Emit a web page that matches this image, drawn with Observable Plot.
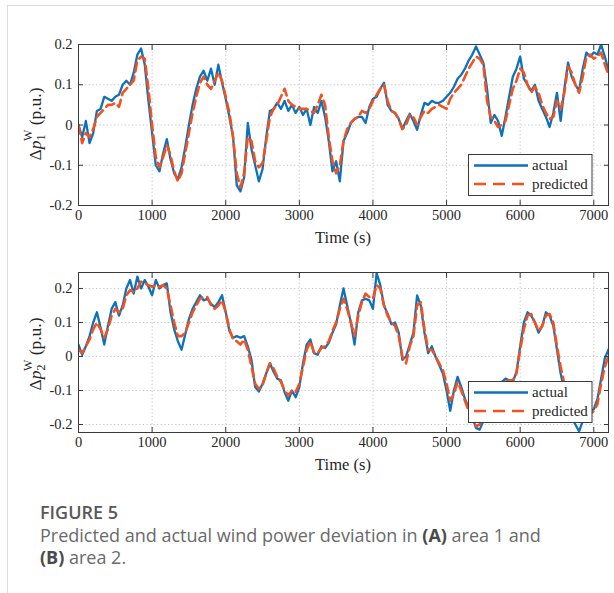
<!DOCTYPE html>
<html><head><meta charset="utf-8">
<script src="https://cdn.jsdelivr.net/npm/d3@7"></script>
<script src="https://cdn.jsdelivr.net/npm/@observablehq/plot@0.6"></script>
<style>
body{margin:0;background:#fff;}
#page{position:relative;width:614px;height:593px;overflow:hidden;background:#fff;}
.bt{position:absolute;left:7px;top:5px;width:607px;height:1px;background:#dcdcdc;}
.bl{position:absolute;left:7px;top:5px;width:1px;height:588px;background:#dcdcdc;}
#p1{position:absolute;left:0;top:0;}
#p2{position:absolute;left:0;top:250px;}
#p1 svg text, #p2 svg text{font-size:14.5px;font-family:'Liberation Serif','Times New Roman',serif;}
#cap{position:absolute;left:40px;top:501px;font-family:'Open Sans',sans-serif;color:#6a6a6a;}
#cap .h{font-size:18px;font-weight:600;color:#585858;line-height:23px;}
#cap .t{font-size:18px;line-height:22px;margin-top:0px;}
#cap b{color:#4a4a4a;font-weight:700;}
</style></head>
<body>
<div id="page">
<div class="bt"></div><div class="bl"></div>
<div id="p1"></div><div id="p2"></div>
<div id="cap"><div class="h">FIGURE 5</div><div class="t">Predicted and actual wind power deviation in <b>(A)</b> area 1 and</div><div class="t"><b>(B)</b> area 2.</div></div>
</div>
<script>
// Time grid (s), sampled every 50 s from 0 to 7200
const time = d3.range(0, 7201, 50);
const xTicks = [0, 1000, 2000, 3000, 4000, 5000, 6000, 7000];
const yTicks1 = [-0.2, -0.1, 0, 0.1, 0.2];
const yTicks2 = [-0.2, -0.1, 0, 0.1, 0.2];

// Area 1
const actual1 = [
  0.0,-0.03,0.01,-0.045,-0.02,0.035,0.04,0.07,0.065,0.06,
  0.07,0.075,0.1,0.11,0.1,0.13,0.175,0.19,0.15,0.06,
  -0.02,-0.1,-0.115,-0.07,-0.035,-0.085,-0.12,-0.135,-0.105,-0.055,
  0.0,0.05,0.09,0.12,0.135,0.11,0.14,0.1,0.15,0.105,
  0.065,0.02,-0.03,-0.15,-0.165,-0.13,0.005,-0.06,-0.1,-0.14,
  -0.11,-0.03,0.035,0.04,0.055,0.04,0.06,0.035,0.05,0.03,
  0.045,0.025,0.04,0.0,0.045,0.03,0.06,0.02,-0.04,-0.115,
  -0.09,-0.14,-0.04,-0.02,0.005,0.015,0.02,0.02,0.005,0.045,
  0.065,0.07,0.09,0.105,0.05,0.035,0.03,0.015,-0.01,0.01,
  0.028,0.01,-0.012,0.025,0.055,0.05,0.06,0.055,0.055,0.06,
  0.07,0.08,0.095,0.115,0.125,0.14,0.16,0.175,0.195,0.175,
  0.155,0.09,0.005,0.025,0.01,-0.027,0.02,0.07,0.12,0.14,
  0.17,0.115,0.1,0.085,0.1,0.06,0.04,0.02,-0.005,0.03,
  0.08,0.01,0.09,0.155,0.12,0.1,0.085,0.14,0.18,0.17,
  0.18,0.175,0.2,0.17,0.135];
const predicted1 = [
  0.0,-0.045,-0.02,-0.03,-0.01,0.02,0.03,0.04,0.05,0.05,
  0.055,0.045,0.08,0.09,0.1,0.11,0.16,0.17,0.165,0.09,
  0.0,-0.08,-0.105,-0.08,-0.05,-0.075,-0.115,-0.14,-0.12,-0.07,
  -0.02,0.03,0.07,0.105,0.12,0.1,0.09,0.11,0.13,0.11,
  0.07,0.03,-0.03,-0.12,-0.155,-0.12,-0.03,-0.04,-0.09,-0.105,
  -0.095,-0.04,0.02,0.04,0.05,0.07,0.09,0.06,0.05,0.045,
  0.04,0.04,0.04,0.035,0.03,0.05,0.075,0.05,-0.03,-0.09,
  -0.12,-0.1,-0.04,-0.01,0.005,0.015,0.02,0.035,0.03,0.04,
  0.06,0.075,0.09,0.1,0.06,0.035,0.03,0.015,-0.01,0.0,
  0.025,0.02,0.0,0.02,0.035,0.03,0.04,0.045,0.05,0.045,
  0.04,0.065,0.08,0.09,0.1,0.12,0.14,0.155,0.17,0.165,
  0.15,0.06,0.02,0.01,-0.005,0.0,0.01,0.05,0.09,0.11,
  0.14,0.13,0.1,0.08,0.095,0.08,0.05,0.03,0.015,0.02,
  0.06,0.04,0.08,0.145,0.13,0.1,0.08,0.12,0.17,0.175,
  0.165,0.17,0.18,0.15,0.125];

// Area 2
const actual2 = [
  0.035,0.005,0.03,0.06,0.1,0.13,0.085,0.035,0.09,0.14,
  0.16,0.12,0.15,0.2,0.225,0.185,0.235,0.2,0.225,0.205,
  0.18,0.225,0.2,0.21,0.215,0.13,0.08,0.045,0.02,0.065,
  0.11,0.14,0.16,0.18,0.165,0.17,0.155,0.145,0.16,0.18,
  0.13,0.075,0.055,0.06,0.055,0.06,0.03,-0.01,-0.09,-0.103,
  -0.08,-0.05,-0.02,-0.045,-0.065,-0.07,-0.105,-0.13,-0.1,-0.12,
  -0.09,-0.02,0.035,0.05,0.01,0.005,0.03,0.025,0.04,0.07,
  0.095,0.15,0.2,0.15,0.1,0.035,0.13,0.165,0.17,0.165,
  0.14,0.245,0.21,0.15,0.125,0.095,0.1,0.07,-0.01,0.0,
  0.035,0.07,0.18,0.15,0.07,0.01,0.03,0.0,-0.025,-0.05,
  -0.1,-0.16,-0.1,-0.06,-0.09,-0.125,-0.15,-0.18,-0.21,-0.215,
  -0.19,-0.16,-0.14,-0.12,-0.1,-0.075,-0.065,-0.07,-0.075,-0.045,
  0.03,0.1,0.13,0.12,0.1,0.07,0.09,0.13,0.12,0.09,
  0.02,-0.05,-0.1,-0.14,-0.18,-0.2,-0.22,-0.19,-0.17,-0.165,
  -0.155,-0.125,-0.065,-0.005,0.02];
const predicted2 = [
  0.02,0.01,0.03,0.05,0.08,0.1,0.08,0.055,0.08,0.12,
  0.14,0.13,0.14,0.18,0.195,0.19,0.2,0.22,0.215,0.21,
  0.205,0.21,0.205,0.21,0.2,0.15,0.1,0.06,0.06,0.07,
  0.1,0.13,0.15,0.17,0.175,0.175,0.15,0.14,0.15,0.165,
  0.13,0.08,0.05,0.045,0.035,0.05,0.02,-0.03,-0.08,-0.095,
  -0.085,-0.05,-0.02,-0.035,-0.06,-0.075,-0.1,-0.115,-0.1,-0.105,
  -0.08,-0.03,0.02,0.045,0.01,0.01,0.025,0.03,0.045,0.075,
  0.1,0.14,0.17,0.14,0.1,0.06,0.12,0.16,0.185,0.175,
  0.17,0.21,0.2,0.15,0.12,0.1,0.09,0.06,0.0,-0.02,
  0.03,0.06,0.15,0.16,0.08,0.02,0.02,0.0,-0.02,-0.04,
  -0.08,-0.13,-0.11,-0.075,-0.1,-0.13,-0.16,-0.19,-0.205,-0.2,
  -0.18,-0.16,-0.14,-0.12,-0.1,-0.085,-0.075,-0.07,-0.07,-0.05,
  0.02,0.08,0.12,0.125,0.1,0.075,0.09,0.12,0.125,0.1,
  0.03,-0.03,-0.08,-0.12,-0.15,-0.17,-0.19,-0.185,-0.18,-0.17,
  -0.16,-0.14,-0.08,-0.03,0.0];

const BLUE = "#0b72bb", ORANGE = "#f4511e";
const SERIF = "'Liberation Serif','Times New Roman',serif";
const fmt = d => String(d);

function panel(actual, predicted, yDomain, yTicks, height, mt, mb) {
  const data = time.map((t, i) => ({t, a: actual[i], p: predicted[i]}));
  return Plot.plot({
    width: 614, height, marginLeft: 78, marginRight: 6, marginTop: mt, marginBottom: mb,
    style: {fontFamily: SERIF, fontSize: "14.5px", color: "#262626", background: "transparent", overflow: "visible"},
    x: {domain: [0, 7200]},
    y: {domain: yDomain},
    marks: [
      Plot.gridX(xTicks, {stroke: "#c4c4c4", strokeOpacity: 1, strokeDasharray: "1.2,2.4"}),
      Plot.gridY(yTicks, {stroke: "#c4c4c4", strokeOpacity: 1, strokeDasharray: "1.2,2.4"}),
      Plot.line(data, {x: "t", y: "a", stroke: BLUE, strokeWidth: 2.3, clip: true}),
      Plot.line(data, {x: "t", y: "p", stroke: ORANGE, strokeWidth: 2.6, strokeDasharray: "9,5", clip: true}),
      Plot.frame({stroke: "#3a3a3a", strokeWidth: 1}),
      Plot.axisX(xTicks, {anchor: "bottom", tickSize: -5, tickPadding: 9, tickFormat: fmt, label: null, stroke: "#3a3a3a"}),
      Plot.axisX(xTicks, {anchor: "top", tickSize: -5, tickFormat: () => "", label: null, stroke: "#3a3a3a"}),
      Plot.axisY(yTicks, {anchor: "left", tickSize: -5, tickPadding: 11, tickFormat: fmt, label: null, stroke: "#3a3a3a"}),
      Plot.axisY(yTicks, {anchor: "right", tickSize: -5, tickFormat: () => "", label: null, stroke: "#3a3a3a"})
    ]
  });
}

function decorate(svg, sub, yLabelCenter, xLabelY, legTop) {
  const s = d3.select(svg);
  // x label
  s.append("text").attr("x", 343).attr("y", xLabelY).attr("text-anchor", "middle")
    .style("font-size", "16.5px").attr("fill", "#262626").text("Time (s)");
  // y label
  const t = s.append("text").attr("transform", `translate(41,${yLabelCenter}) rotate(-90)`)
    .attr("text-anchor", "middle").style("font-size", "17.5px").attr("fill", "#262626");
  t.append("tspan").text("Δ");
  t.append("tspan").attr("font-style", "italic").text("p");
  t.append("tspan").style("font-size", "12px").attr("dy", 4).text(sub);
  t.append("tspan").style("font-size", "12px").attr("dx", -6.5).attr("dy", -13).text("W");
  t.append("tspan").attr("dy", 9).text(" (p.u.)");
  // legend
  const g = s.append("g").attr("fill", "#262626");
  g.append("rect").attr("x", 468.5).attr("y", legTop + 0.5).attr("width", 123.5).attr("height", 41)
    .attr("fill", "#fff").attr("stroke", "#3a3a3a");
  g.append("line").attr("x1", 474).attr("x2", 528).attr("y1", legTop + 11.5).attr("y2", legTop + 11.5)
    .attr("stroke", BLUE).attr("stroke-width", 2.3);
  g.append("line").attr("x1", 474).attr("x2", 528).attr("y1", legTop + 30).attr("y2", legTop + 30)
    .attr("stroke", ORANGE).attr("stroke-width", 2.6).attr("stroke-dasharray", "12,7");
  g.append("text").attr("x", 532).attr("y", legTop + 16).attr("text-anchor", "start").style("font-size", "15px").text("actual");
  g.append("text").attr("x", 532).attr("y", legTop + 35).attr("text-anchor", "start").style("font-size", "15px").text("predicted");
}

const svg1 = panel(actual1, predicted1, [-0.2, 0.2], yTicks1, 250, 44, 45);
document.getElementById("p1").appendChild(svg1);
decorate(svg1, "1", 124, 243, 154);

const svg2 = panel(actual2, predicted2, [-0.2235, 0.247], yTicks2, 230, 22, 48);
document.getElementById("p2").appendChild(svg2);
decorate(svg2, "2", 104, 220, 131);
</script>
</body></html>
